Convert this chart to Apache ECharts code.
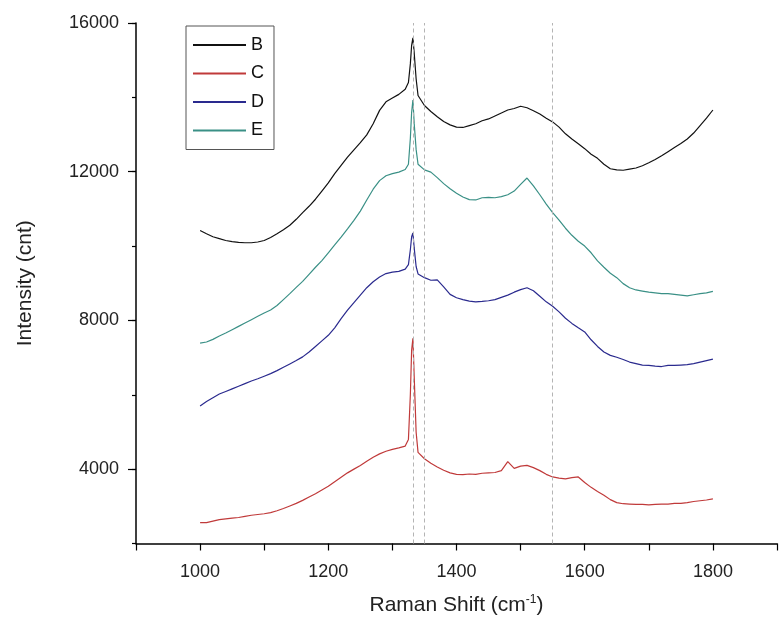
<!DOCTYPE html>
<html><head><meta charset="utf-8">
<script src="https://cdn.jsdelivr.net/npm/echarts@6/dist/echarts.min.js"></script>
<style>html,body{margin:0;padding:0;background:#fff}#c{width:780px;height:621px}</style>
</head><body><div id="c"></div>
<script>
const ramanShift = [1000,1010,1020,1030,1040,1050,1060,1070,1080,1090,1100,1110,1120,1130,1140,1150,1160,1170,1180,1190,1200,1210,1220,1230,1240,1250,1260,1270,1280,1290,1300,1310,1320,
  1325,1328,1330,1332,1334,1337,1340,
  1350,1360,1370,1380,1390,1400,1410,1420,1430,1440,1450,1460,1470,1480,1490,1500,1510,1520,1530,1540,1550,1560,1570,1580,1590,1600,1610,1620,1630,1640,1650,1660,1670,1680,1690,1700,1710,1720,1730,1740,1750,1760,1770,1780,1790,1800];

const seriesB = [10420,10330,10250,10200,10150,10120,10100,10090,10090,10110,10150,10230,10330,10440,10560,10720,10900,11070,11260,11480,11700,11950,12170,12390,12590,12780,12990,13290,13650,13880,13980,14080,14220,
  14400,14900,15400,15600,15200,14500,14050,
  13780,13620,13480,13350,13260,13200,13190,13240,13290,13370,13420,13500,13580,13660,13700,13760,13720,13640,13550,13440,13340,13200,13020,12880,12750,12620,12470,12360,12200,12080,12050,12040,12070,12100,12160,12240,12330,12430,12540,12650,12760,12880,13040,13240,13440,13660];

const seriesC = [2560,2560,2600,2640,2660,2680,2700,2730,2760,2780,2800,2830,2880,2940,3010,3080,3160,3250,3340,3440,3540,3660,3780,3900,4000,4100,4210,4320,4410,4480,4530,4570,4620,
  4800,6000,7200,7520,6500,5000,4450,
  4280,4160,4060,3970,3900,3860,3850,3870,3860,3890,3900,3910,3960,4200,4020,4080,4100,4040,3960,3860,3790,3760,3740,3770,3790,3640,3510,3400,3300,3180,3100,3070,3060,3050,3050,3040,3050,3060,3060,3080,3080,3100,3130,3150,3170,3200];

const seriesD = [5700,5820,5920,6020,6090,6160,6230,6300,6370,6430,6500,6570,6650,6740,6830,6920,7020,7150,7300,7450,7600,7800,8050,8280,8480,8680,8880,9040,9170,9260,9300,9320,9380,
  9500,9900,10250,10350,9950,9450,9250,
  9150,9080,9090,8900,8700,8610,8560,8520,8500,8510,8530,8560,8620,8680,8760,8830,8880,8800,8650,8500,8380,8230,8060,7920,7800,7690,7480,7300,7150,7060,7010,6950,6880,6840,6800,6790,6770,6760,6790,6790,6800,6810,6840,6880,6920,6960];

const seriesE = [7390,7420,7490,7580,7660,7750,7840,7930,8020,8110,8200,8280,8400,8560,8720,8890,9050,9240,9430,9610,9820,10030,10240,10460,10690,10940,11240,11530,11760,11890,11950,11990,12060,
  12200,12900,13600,13930,13300,12600,12200,
  12050,11990,11840,11680,11540,11420,11320,11250,11240,11300,11310,11300,11330,11380,11480,11660,11830,11620,11380,11130,10900,10700,10480,10290,10130,10000,9820,9600,9430,9270,9150,8990,8880,8820,8790,8760,8740,8720,8720,8700,8680,8660,8690,8720,8740,8780];

const seriesNames = ['B', 'C', 'D', 'E'];
const seriesColors = ['#111111', '#c03a3a', '#2a2a8e', '#3a9086'];
const dashedPositions = [1332, 1350, 1550];

const FONT = '"Liberation Sans", Arial, sans-serif';
const allValues = [seriesB, seriesC, seriesD, seriesE];

const chart = echarts.init(document.getElementById('c'), null, {renderer: 'canvas'});

const series = seriesNames.map((name, k) => {
  const s = {
    name: name,
    type: 'line',
    xAxisIndex: 0,
    yAxisIndex: 0,
    data: ramanShift.map((x, i) => [x, allValues[k][i]]),
    symbol: 'none',
    showSymbol: false,
    lineStyle: {width: 1.2, color: seriesColors[k]},
    itemStyle: {color: seriesColors[k]},
    z: 3
  };
  if (k === 0) {
    s.markLine = {
      silent: true,
      symbol: ['none', 'none'],
      label: {show: false},
      lineStyle: {color: '#b4b4b4', type: [4, 3], width: 1},
      animation: false,
      data: dashedPositions.map(v => ({xAxis: v}))
    };
  }
  return s;
});

chart.setOption({
  animation: false,
  backgroundColor: '#ffffff',
  grid: [
    {left: 136, width: 645, top: 23, bottom: 77},
    {left: 136, width: 645, top: 23, bottom: 152}
  ],
  legend: {
    data: seriesNames,
    orient: 'vertical',
    left: 186,
    top: 26,
    padding: [10, 10, 10, 6],
    itemWidth: 53,
    itemHeight: 14,
    itemGap: 10.5,
    borderColor: '#555',
    borderWidth: 1,
    itemStyle: {opacity: 0, color: 'transparent', borderWidth: 0},
    textStyle: {fontSize: 18, color: '#111', fontFamily: FONT}
  },
  xAxis: [
    {
      gridIndex: 0,
      type: 'value',
      min: 900, max: 1900, interval: 100,
      axisLine: {show: true, onZero: false, lineStyle: {color: '#000', width: 1.5}},
      axisTick: {show: true, length: 7, lineStyle: {color: '#000', width: 1.2}},
      axisLabel: {
        fontSize: 18, color: '#222', fontFamily: FONT, margin: 20,
        formatter: v => (v >= 1000 && v <= 1800 && (v - 1000) % 200 === 0) ? String(v) : ''
      },
      splitLine: {show: false},
      name: 'Raman Shift (cm{sup|-1})',
      nameLocation: 'middle',
      nameGap: 50,
      nameTextStyle: {
        fontSize: 21, color: '#222', fontFamily: FONT,
        rich: {sup: {fontSize: 12, color: '#222', fontFamily: FONT, padding: [0, 0, 12, 0]}}
      }
    },
    {gridIndex: 1, type: 'value', min: 900, max: 1900, show: false}
  ],
  yAxis: [
    {
      gridIndex: 0,
      type: 'value',
      min: 2000, max: 16000, interval: 2000,
      axisLine: {show: true, lineStyle: {color: '#000', width: 1.5}},
      axisTick: {show: true, length: 4, lineStyle: {color: '#000', width: 1.2}},
      axisLabel: {show: false},
      splitLine: {show: false},
      name: 'Intensity (cnt)',
      nameLocation: 'middle',
      nameGap: 100,
      nameTextStyle: {fontSize: 21, color: '#222', fontFamily: FONT}
    },
    {
      gridIndex: 1,
      type: 'value',
      min: 4000, max: 16000, interval: 4000,
      axisLine: {show: false},
      axisTick: {show: true, length: 8, lineStyle: {color: '#000', width: 1.2}},
      axisLabel: {fontSize: 18, color: '#222', fontFamily: FONT, margin: 17, formatter: v => String(v)},
      splitLine: {show: false}
    }
  ],
  series: series
});
</script>
</body></html>
